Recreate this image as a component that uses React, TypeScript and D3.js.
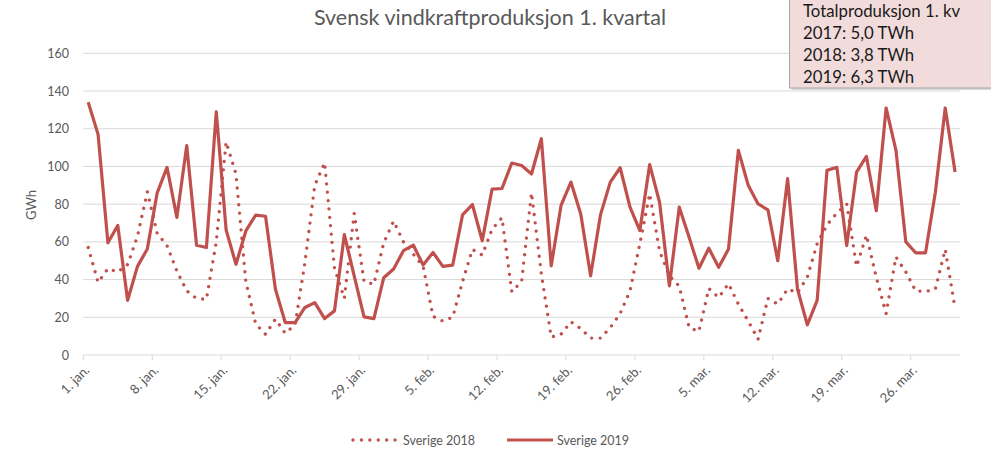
import React from 'react';
import * as d3 from 'd3';

const TICK_LABELS = ['1. jan.', '8. jan.', '15. jan.', '22. jan.', '29. jan.', '5. feb.', '12. feb.', '19. feb.', '26. feb.', '5. mar.', '12. mar.', '19. mar.', '26. mar.'];
const Y_TICKS = [0, 20, 40, 60, 80, 100, 120, 140, 160];

const SERIES_2018 = [
  57, 38.5, 45.8, 44, 48, 63, 86.5, 64.5, 58, 44.5,
  34, 30, 29.5, 60, 113, 96, 39, 16.5, 11, 19,
  11.5, 16, 49, 90, 102, 46, 30, 75, 39, 37.5,
  59.5, 71, 60, 53.5, 47, 20.5, 18, 20, 39, 56,
  53, 66.7, 72.8, 33.5, 39, 86, 43, 9.5, 11, 17.6,
  14, 9, 9, 14.5, 22, 34, 59, 85.5, 55, 42,
  36.5, 14.5, 12.5, 35.3, 30.5, 37.8, 27, 18, 8.3, 30,
  27, 35, 33, 41.3, 59, 69, 75.3, 80, 47, 63.6,
  41.2, 22, 52, 44, 34, 33.6, 35, 56, 24.7,
];

const SERIES_2019 = [
  134, 117, 59.5, 68.7, 29, 47, 56.2, 86, 99.5, 73,
  111, 58.2, 57, 129, 66.3, 48.1, 65.8, 74.2, 73.6, 35,
  17.2, 17.2, 25.2, 27.8, 19.3, 23.4, 63.8, 42, 20.2, 19.3,
  41, 45.6, 55.3, 58.3, 47.7, 54.4, 47, 47.7, 74.3, 79.8,
  60.6, 88, 88.3, 101.8, 100.5, 96, 114.7, 47.3, 79.3, 91.7,
  74.8, 42, 74.3, 91.7, 99.3, 78.4, 66, 101, 81, 36.7,
  78.4, 62.4, 46, 56.6, 46.5, 56.2, 108.5, 90, 80.1, 77,
  50, 93.5, 35, 16, 29, 98, 99.5, 58, 97, 105.3,
  76.5, 131, 108.5, 60, 54.2, 54.2, 86.3, 131, 97,
];

const SERIES_NAMES = ['Sverige 2018', 'Sverige 2019'];
const TITLE = 'Svensk vindkraftproduksjon 1. kvartal';
const Y_LABEL = 'GWh';
const BOX_LINES = ['Totalproduksjon 1. kv', '2017: 5,0 TWh', '2018: 3,8 TWh', '2019: 6,3 TWh'];

const FONT = 'Lato, "Open Sans", sans-serif';
const RED = '#c0504d';
const GRAY = '#595959';
const GRID = '#d9d9d9';

export default function App() {
  const W = 991;
  const H = 454;
  const n = SERIES_2019.length;
  const x = d3.scaleLinear().domain([-0.5, n - 0.5]).range([83.3, 960]);
  const y = d3.scaleLinear().domain([0, 160]).range([355, 53.3]);
  const line = d3
    .line<number>()
    .x((_, i) => x(i))
    .y((d) => y(d));

  const dotted = { stroke: RED, strokeWidth: 3.3, fill: 'none', strokeDasharray: '0.01 8.4', strokeLinecap: 'round' as const };
  const solid = { stroke: RED, strokeWidth: 3.2, fill: 'none', strokeLinejoin: 'round' as const };

  return (
    <svg width={W} height={H} style={{ position: 'absolute', left: 0, top: 0, background: '#fff' }} fontFamily={FONT}>
      <rect x={0} y={0} width={W} height={H} fill="#fff" />
      {/* grid */}
      {Y_TICKS.filter((t) => t > 0).map((t) => (
        <line key={t} x1={83.3} x2={960} y1={y(t)} y2={y(t)} stroke={GRID} strokeWidth={1} />
      ))}
      {/* y tick labels */}
      {Y_TICKS.map((t) => (
        <text key={t} x={69} y={y(t) + 4.5} textAnchor="end" fontSize={12.5} fill={GRAY}>
          {t}
        </text>
      ))}
      {/* x axis */}
      <line x1={83.3} x2={960} y1={y(0)} y2={y(0)} stroke={GRID} strokeWidth={1} />
      {TICK_LABELS.map((lab, k) => {
        const tx = x(k * 7 - 0.5);
        const cx = x(k * 7);
        return (
          <g key={lab}>
            <line x1={tx} x2={tx} y1={y(0)} y2={y(0) + 5} stroke={GRID} strokeWidth={1} />
            <text
              transform={`translate(${cx + 2},${y(0) + 16}) rotate(-45)`}
              textAnchor="end"
              fontSize={13}
              fill={GRAY}
            >
              {lab}
            </text>
          </g>
        );
      })}
      {/* y label */}
      <text transform={`translate(${36},${205}) rotate(-90)`} textAnchor="middle" fontSize={13} fill={GRAY}>
        {Y_LABEL}
      </text>
      {/* series */}
      <path d={line(SERIES_2018) || ''} {...dotted} />
      <path d={line(SERIES_2019) || ''} {...solid} />
      {/* title */}
      <text x={490} y={25} textAnchor="middle" fontSize={21.5} fill={GRAY}>
        {TITLE}
      </text>
      {/* legend */}
      <line x1={353} x2={397} y1={440} y2={440} {...dotted} />
      <text x={403} y={444.5} fontSize={12.5} fill={GRAY}>
        {SERIES_NAMES[0]}
      </text>
      <line x1={507} x2={553} y1={440} y2={440} {...solid} />
      <text x={557} y={444.5} fontSize={12.5} fill={GRAY}>
        {SERIES_NAMES[1]}
      </text>
      {/* info box */}
      <rect x={791.5} y={-4} width={210} height={94} fill="#bfbfbf" opacity={0.6} />
      <rect x={789.5} y={-6} width={210} height={94} fill="#f2dcdb" stroke="#a6a6a6" strokeWidth={1} />
      {BOX_LINES.map((s, i) => (
        <text key={s} x={803} y={16.5 + i * 22.3} fontSize={16.8} fill="#1a1a1a">
          {s}
        </text>
      ))}
    </svg>
  );
}
